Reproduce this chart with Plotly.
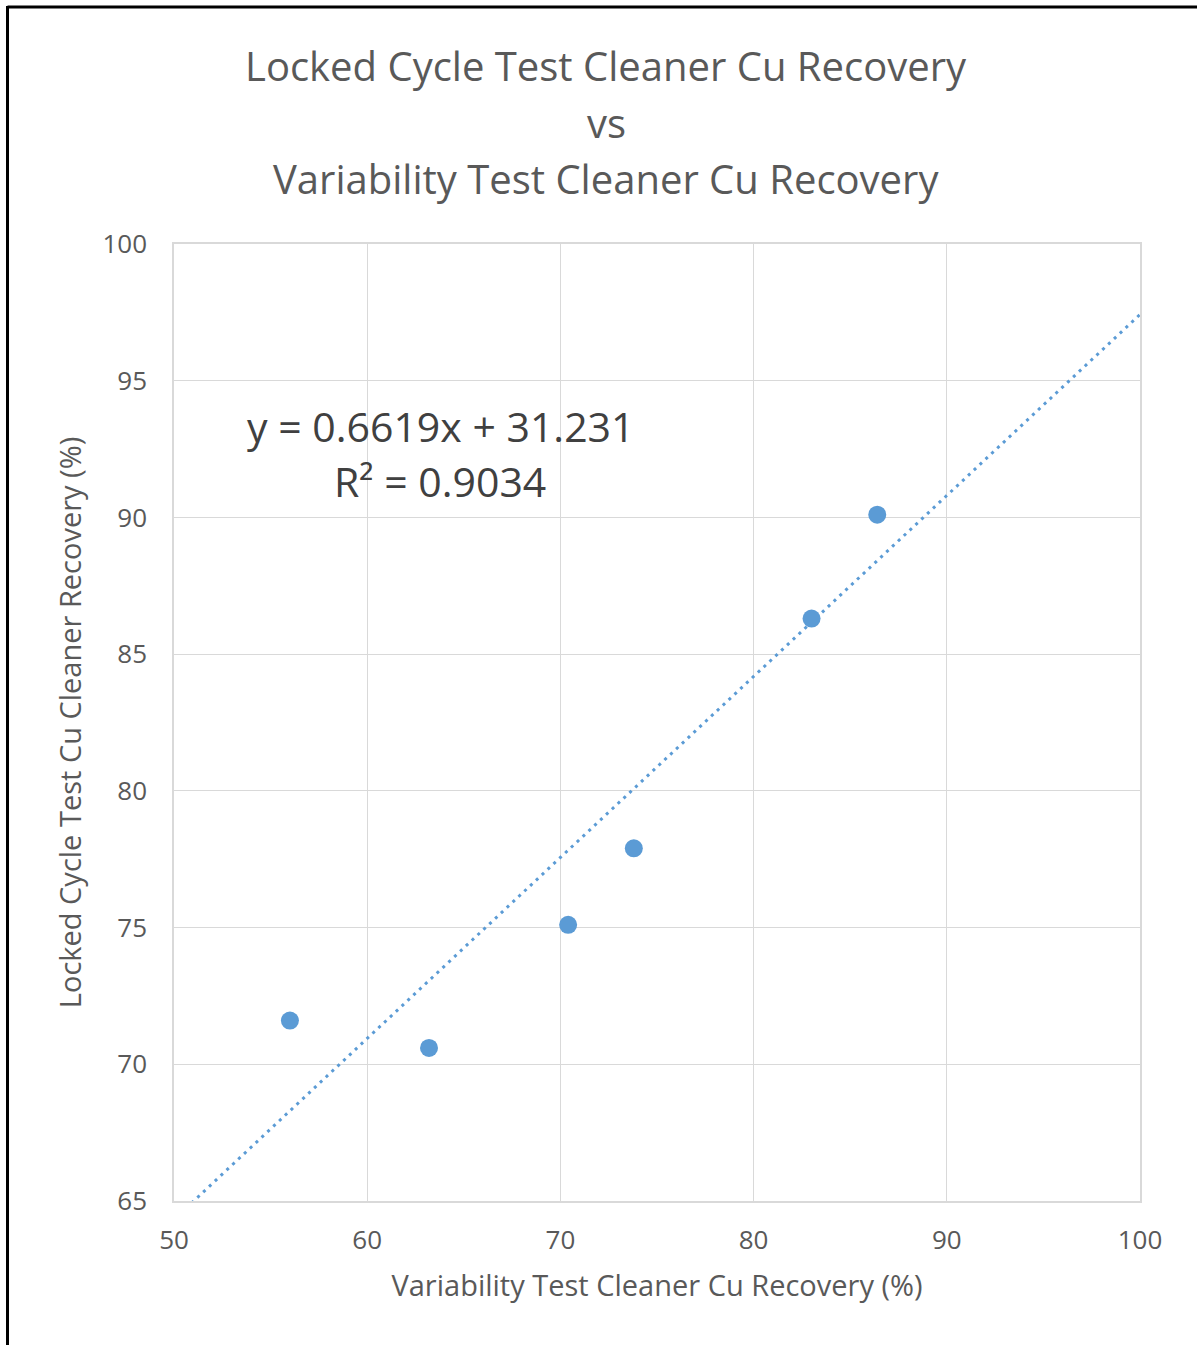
import plotly.graph_objects as go

# Cleaner Cu recovery (%) for each sample
variability_recovery = [56.0, 63.2, 70.4, 73.8, 83.0, 86.4]
locked_cycle_recovery = [71.6, 70.6, 75.1, 77.9, 86.3, 90.1]

# Linear trendline as stated on the chart
slope = 0.6619
intercept = 31.231
r_squared = 0.9034

x_ticks = [50, 60, 70, 80, 90, 100]
y_ticks = [65, 70, 75, 80, 85, 90, 95, 100]

BLUE = "#5B9BD5"
GRID = "#D9D9D9"
TEXT = "#595959"
FONT = "Open Sans"

W, H = 1197, 1345
L, R, T, B = 174, 57, 244, 144

fig = go.Figure()

trend_x = [x_ticks[0], x_ticks[-1]]
trend_y = [slope * x + intercept for x in trend_x]
fig.add_trace(go.Scatter(
    x=trend_x, y=trend_y, mode="lines",
    line=dict(color=BLUE, width=3, dash="3px,5px"),
    hoverinfo="skip", showlegend=False,
))

fig.add_trace(go.Scatter(
    x=variability_recovery, y=locked_cycle_recovery, mode="markers",
    marker=dict(color=BLUE, size=18, line=dict(width=0)),
    showlegend=False,
))

axis_common = dict(
    showgrid=True, gridcolor=GRID, gridwidth=1,
    showline=True, linecolor=GRID, linewidth=1.5, mirror=True,
    zeroline=False, ticks="",
    tickfont=dict(family=FONT, size=26, color=TEXT),
)

fig.update_xaxes(
    range=[x_ticks[0], x_ticks[-1]], tickvals=x_ticks,
    title=dict(text="Variability Test Cleaner Cu Recovery (%)",
               font=dict(family=FONT, size=29, color=TEXT), standoff=20),
    ticklabelstandoff=15,
    **axis_common,
)
fig.update_yaxes(
    range=[y_ticks[0], y_ticks[-1]], tickvals=y_ticks,
    title=dict(text="Locked Cycle Test Cu Cleaner Recovery (%)",
               font=dict(family=FONT, size=29, color=TEXT), standoff=12),
    ticklabelstandoff=20,
    **axis_common,
)

def px_to_paper_x(px):
    return (px - L) / (W - L - R)

def px_to_paper_y(py):
    return (H - B - py) / (H - T - B)

# Title lines
title_lines = [
    ("Locked Cycle Test Cleaner Cu Recovery", 65),
    ("vs", 122),
    ("Variability Test Cleaner Cu Recovery", 178),
]
for text, py in title_lines:
    fig.add_annotation(
        text=text, xref="paper", yref="paper",
        x=px_to_paper_x(606), y=px_to_paper_y(py),
        showarrow=False, xanchor="center", yanchor="middle",
        font=dict(family=FONT, size=40, color=TEXT),
    )

# Trendline equation
fig.add_annotation(
    text=f"y = {slope}x + {intercept}",
    xref="paper", yref="paper",
    x=px_to_paper_x(440), y=px_to_paper_y(426),
    showarrow=False, xanchor="center", yanchor="middle",
    font=dict(family=FONT, size=41, color="#404040"),
)
fig.add_annotation(
    text=f"R² = {r_squared}",
    xref="paper", yref="paper",
    x=px_to_paper_x(440), y=px_to_paper_y(481),
    showarrow=False, xanchor="center", yanchor="middle",
    font=dict(family=FONT, size=41, color="#404040"),
)

# Outer frame: black line along the top and left edges
fig.add_shape(type="line", xref="paper", yref="paper",
              x0=px_to_paper_x(7.5), x1=px_to_paper_x(W + 5),
              y0=px_to_paper_y(7), y1=px_to_paper_y(7),
              line=dict(color="black", width=3))
fig.add_shape(type="line", xref="paper", yref="paper",
              x0=px_to_paper_x(7.5), x1=px_to_paper_x(7.5),
              y0=px_to_paper_y(6), y1=px_to_paper_y(H + 5),
              line=dict(color="black", width=3))

fig.update_layout(
    width=W, height=H,
    margin=dict(l=L, r=R, t=T, b=B),
    paper_bgcolor="white", plot_bgcolor="white",
    font=dict(family=FONT, color=TEXT),
)

fig.write_html("out.html")
